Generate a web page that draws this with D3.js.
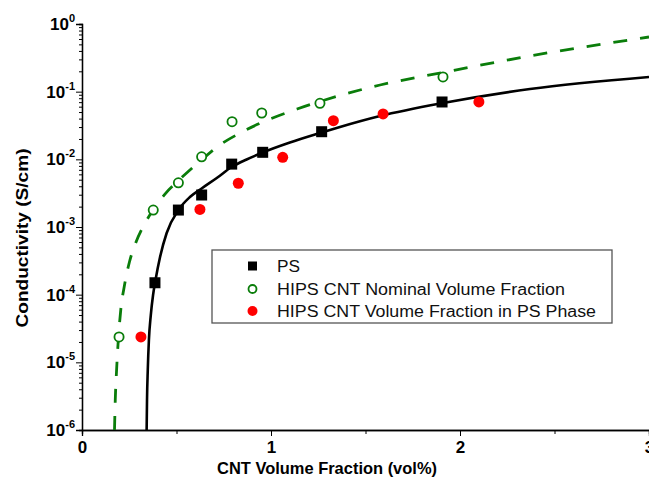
<!DOCTYPE html>
<html lang="en">
<head>
<meta charset="utf-8">
<script src="https://cdn.jsdelivr.net/npm/d3@7"></script>
<style>
  body { margin: 0; background: #fff; }
  text { font-family: Arial, "Liberation Sans", sans-serif; }
</style>
</head>
<body>
<script>
// measured points
var psX = [0.386, 0.510, 0.633, 0.792, 0.956, 1.268, 1.905];
var psY = [1.50e-4, 1.78e-3, 2.97e-3, 8.5e-3, 1.27e-2, 2.56e-2, 7.04e-2];

var nomX = [0.196, 0.377, 0.510, 0.633, 0.794, 0.951, 1.259, 1.910];
var nomY = [2.37e-5, 1.78e-3, 4.5e-3, 1.09e-2, 3.6e-2, 4.84e-2, 6.73e-2, 0.165];

var phX = [0.312, 0.624, 0.827, 1.062, 1.330, 1.593, 2.10];
var phY = [2.37e-5, 1.82e-3, 4.43e-3, 1.07e-2, 3.72e-2, 4.68e-2, 7.04e-2];

// fit curves
var fitPsX = [0.342, 0.344, 0.348, 0.354, 0.364, 0.376, 0.389, 0.413, 0.448, 0.510, 0.571, 0.633, 0.713, 0.792, 0.871, 0.956, 1.100, 1.268, 1.365, 1.577, 1.910, 2.370, 3.0];
var fitPsY = [1e-6, 2.77e-6, 7.7e-6, 2.14e-5, 5.0e-5, 9.9e-5, 1.65e-4, 3.6e-4, 8.15e-4, 1.78e-3, 2.77e-3, 3.71e-3, 5.30e-3, 7.7e-3, 9.95e-3, 1.26e-2, 1.77e-2, 2.49e-2, 3.01e-2, 4.37e-2, 6.8e-2, 0.1095, 0.165];

var fitNomX = [0.172, 0.176, 0.183, 0.192, 0.205, 0.225, 0.251, 0.286, 0.328, 0.376, 0.439, 0.508, 0.571, 0.635, 0.714, 0.852, 0.995, 1.138, 1.259, 1.577, 1.910, 2.370, 3.0];
var fitNomY = [1e-6, 2.77e-6, 7.7e-6, 2.14e-5, 5.93e-5, 1.39e-4, 3.04e-4, 6.0e-4, 1.07e-3, 1.78e-3, 3.07e-3, 4.79e-3, 6.96e-3, 9.95e-3, 1.52e-2, 2.58e-2, 3.94e-2, 5.54e-2, 7.16e-2, 0.1255, 0.192, 0.337, 0.643];

var xTicks = [0, 1, 2, 3];
var xMinor = [0.5, 1.5, 2.5];
var yExp = [0, -1, -2, -3, -4, -5, -6];

var legendNames = ["PS", "HIPS CNT Nominal Volume Fraction", "HIPS CNT Volume Fraction in PS Phase"];
var legendWidths = [23, 288, 319];

var W = 649, H = 483;
var mLeft = 82, mTop = 24, mRight = 649, mBottom = 430;

var svg = d3.select("body").append("svg")
  .attr("width", W).attr("height", H);

var x = d3.scaleLinear().domain([0, 3]).range([mLeft, mRight]);
var y = d3.scaleLog().domain([1e-6, 1]).range([mBottom, mTop]);

// minor log ticks
var yMinor = [];
for (var e = -6; e < 0; e++) {
  for (var k = 2; k <= 9; k++) yMinor.push(k * Math.pow(10, e));
}

// y axis
var gy = svg.append("g").attr("transform", "translate(" + mLeft + ",0)");
gy.call(d3.axisLeft(y).tickValues(yMinor).tickSize(3).tickFormat(""));
gy.append("g").call(d3.axisLeft(y).tickValues(yExp.map(function(d){ return Math.pow(10, d); }))
  .tickSize(6).tickFormat(""));
gy.selectAll(".domain").attr("stroke", "#000").attr("stroke-width", 1.3);
gy.selectAll(".tick line").attr("stroke", "#000").attr("stroke-width", 1);

var yl = svg.append("g");
yExp.forEach(function(ex) {
  var t = yl.append("text")
    .attr("x", 75).attr("y", y(Math.pow(10, ex)) + 6)
    .attr("text-anchor", "end")
    .style("font-weight", "bold").style("font-size", "17px");
  t.append("tspan").text("10");
  t.append("tspan").attr("dy", -8).style("font-size", "11px").text(ex === 0 ? "0" : "-" + (-ex));
});

// x axis
var gx = svg.append("g").attr("transform", "translate(0," + mBottom + ")");
gx.call(d3.axisBottom(x).tickValues(xMinor).tickSize(4).tickFormat(""));
gx.append("g").call(d3.axisBottom(x).tickValues(xTicks).tickSize(6).tickPadding(5)
  .tickFormat(d3.format("d")));
gx.selectAll(".domain").attr("stroke", "#000").attr("stroke-width", 1.3);
gx.selectAll(".tick line").attr("stroke", "#000");
gx.selectAll("text").attr("fill", "#000").style("font-size", "17px")
  .style("font-weight", "bold").style("font-family", "Arial, 'Liberation Sans', sans-serif");

// axis titles
svg.append("text").attr("x", 327).attr("y", 474).attr("text-anchor", "middle")
  .style("font-weight", "bold").style("font-size", "16.5px")
  .attr("textLength", 220).attr("lengthAdjust", "spacingAndGlyphs")
  .text("CNT Volume Fraction (vol%)");
svg.append("text").attr("transform", "translate(28," + 238 + ") rotate(-90)")
  .attr("text-anchor", "middle")
  .style("font-weight", "bold").style("font-size", "17px")
  .attr("textLength", 179).attr("lengthAdjust", "spacingAndGlyphs")
  .text("Conductivity (S/cm)");

// clip
svg.append("clipPath").attr("id", "plot").append("rect")
  .attr("x", mLeft).attr("y", mTop - 20).attr("width", mRight - mLeft).attr("height", mBottom - mTop + 20);

var line = d3.line().x(function(d){ return x(d[0]); }).y(function(d){ return y(d[1]); })
  .curve(d3.curveMonotoneX);

var plot = svg.append("g").attr("clip-path", "url(#plot)");

plot.append("path").datum(d3.zip(fitNomX, fitNomY))
  .attr("d", line).attr("fill", "none")
  .attr("stroke", "#0a7d0a").attr("stroke-width", 2.8)
  .attr("stroke-dasharray", "14,13");

plot.append("path").datum(d3.zip(fitPsX, fitPsY))
  .attr("d", line).attr("fill", "none")
  .attr("stroke", "#000").attr("stroke-width", 2.6);

// markers
plot.selectAll(".ph").data(d3.zip(phX, phY)).enter().append("circle")
  .attr("cx", function(d){ return x(d[0]); }).attr("cy", function(d){ return y(d[1]); })
  .attr("r", 5.5).attr("fill", "#ff0000");

plot.selectAll(".nom").data(d3.zip(nomX, nomY)).enter().append("circle")
  .attr("cx", function(d){ return x(d[0]); }).attr("cy", function(d){ return y(d[1]); })
  .attr("r", 4.6).attr("fill", "#fff").attr("stroke", "#0a7d0a").attr("stroke-width", 1.8);

plot.selectAll(".ps").data(d3.zip(psX, psY)).enter().append("rect")
  .attr("x", function(d){ return x(d[0]) - 5.5; }).attr("y", function(d){ return y(d[1]) - 5.5; })
  .attr("width", 11).attr("height", 11).attr("fill", "#000");

// legend
var lg = svg.append("g").attr("transform", "translate(212,250)");
lg.append("rect").attr("width", 400).attr("height", 73)
  .attr("fill", "#fff").attr("stroke", "#555").attr("stroke-width", 1.3);
var rowY = [16, 39, 61];
lg.append("rect").attr("x", 36).attr("y", rowY[0] - 4.5).attr("width", 9).attr("height", 9).attr("fill", "#000");
lg.append("circle").attr("cx", 40.5).attr("cy", rowY[1]).attr("r", 4)
  .attr("fill", "#fff").attr("stroke", "#0a7d0a").attr("stroke-width", 1.8);
lg.append("circle").attr("cx", 40.5).attr("cy", rowY[2]).attr("r", 5).attr("fill", "#ff0000");
legendNames.forEach(function(n, i) {
  lg.append("text").attr("x", 65).attr("y", rowY[i] + 6)
    .style("font-size", "16px").attr("fill", "#111")
    .attr("textLength", legendWidths[i]).attr("lengthAdjust", "spacingAndGlyphs")
    .text(n);
});
</script>
</body>
</html>
